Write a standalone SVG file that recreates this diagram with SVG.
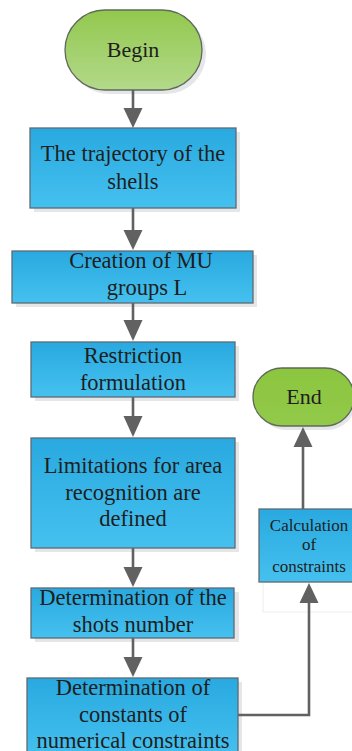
<svg xmlns="http://www.w3.org/2000/svg" width="352" height="751" viewBox="0 0 352 751">
<style>
.box{stroke:#5f6b73;stroke-width:1.3;fill:url(#blue)}
.term{stroke:#5f6a5a;stroke-width:1.3}
.sh{fill:#e4e6e8}
.t{font-family:'Liberation Serif','Times New Roman',serif;font-size:22.5px;fill:#1e1e1e;text-anchor:middle}
.tm{font-size:22px}
.ts{font-size:17px}
.c{stroke:#616161;stroke-width:2.6;fill:none}
</style>
<defs>
<linearGradient id="blue" x1="0" y1="0" x2="0" y2="1"><stop offset="0" stop-color="#29a9e0"/><stop offset="1" stop-color="#45c1ef"/></linearGradient>
<linearGradient id="green1" x1="0" y1="0" x2="0" y2="1"><stop offset="0" stop-color="#92c84e"/><stop offset="1" stop-color="#b3d98a"/></linearGradient>
<linearGradient id="green2" x1="0" y1="0" x2="0" y2="1"><stop offset="0" stop-color="#8cc63f"/><stop offset="1" stop-color="#92c94a"/></linearGradient>
</defs>
<g id="shadows">
<rect class="sh" x="69" y="14" width="137" height="80" rx="40"/>
<rect class="sh" x="34" y="132" width="206" height="80"/>
<rect class="sh" x="16" y="255" width="241" height="52"/>
<rect class="sh" x="35" y="346" width="204" height="55"/>
<rect class="sh" x="35" y="442" width="204" height="110"/>
<rect class="sh" x="35" y="592" width="204" height="50"/>
<rect class="sh" x="31" y="682" width="211" height="73"/>
<rect class="sh" x="263" y="513" width="93" height="73"/>
<rect class="sh" x="257" y="372" width="99" height="58" rx="29"/>
</g>
<rect x="263" y="582" width="92" height="30" fill="#ffffff" stroke="#eeeeee" stroke-width="1"/>
<g id="connectors">
<path class="c" d="M133,90 V110"/>
<path d="M123.5,108 L142.5,108 L133,128 Z" fill="#616161"/>
<path class="c" d="M133,208 V232"/>
<path d="M123.5,230 L142.5,230 L133,250 Z" fill="#616161"/>
<path class="c" d="M133,303 V322"/>
<path d="M123.5,320 L142.5,320 L133,341 Z" fill="#616161"/>
<path class="c" d="M133,397 V418"/>
<path d="M123.5,416 L142.5,416 L133,437 Z" fill="#616161"/>
<path class="c" d="M133,548 V569"/>
<path d="M123.5,567 L142.5,567 L133,587 Z" fill="#616161"/>
<path class="c" d="M133,638 V659"/>
<path d="M123.5,657 L142.5,657 L133,677 Z" fill="#616161"/>
<path class="c" d="M238,715 H309 V601"/>
<path d="M299.5,603 L318.5,603 L309,583 Z" fill="#616161"/>
<path class="c" d="M303,509 V445"/>
<path d="M293.5,447 L312.5,447 L303,427 Z" fill="#616161"/>
</g>
<g id="begin">
<rect class="term" x="65" y="10" width="137" height="80" rx="40" fill="url(#green1)"/>
<text class="t tm" x="133" y="57">Begin</text>
</g>
<g id="trajectory">
<rect class="box" x="30" y="128" width="206" height="80"/>
<text class="t" x="133" y="161">The trajectory of the</text>
<text class="t" x="133" y="189">shells</text>
</g>
<g id="creation">
<rect class="box" x="12" y="251" width="241" height="52"/>
<text class="t" x="141" y="268">Creation of MU</text>
<text class="t" x="147" y="295">groups L</text>
</g>
<g id="restriction">
<rect class="box" x="31" y="342" width="204" height="55"/>
<text class="t" x="133" y="363">Restriction</text>
<text class="t" x="133" y="390">formulation</text>
</g>
<g id="limitations">
<rect class="box" x="31" y="438" width="204" height="110"/>
<text class="t" x="133" y="473">Limitations for area</text>
<text class="t" x="133" y="500">recognition are</text>
<text class="t" x="133" y="526">defined</text>
</g>
<g id="shots">
<rect class="box" x="31" y="588" width="203" height="50"/>
<text class="t" x="133" y="605">Determination of the</text>
<text class="t" x="133" y="632">shots number</text>
</g>
<g id="constants">
<rect class="box" x="27" y="678" width="211" height="80"/>
<text class="t" x="133" y="695">Determination of</text>
<text class="t" x="133" y="722">constants of</text>
<text class="t" x="133" y="748">numerical constraints</text>
</g>
<g id="calculation">
<rect class="box" x="259" y="509" width="96" height="73"/>
<text class="t ts" x="309" y="531">Calculation</text>
<text class="t ts" x="309" y="550">of</text>
<text class="t ts" x="309" y="572">constraints</text>
</g>
<g id="end">
<rect class="term" x="253" y="368" width="101" height="58" rx="29" fill="url(#green2)"/>
<text class="t tm" x="304" y="404">End</text>
</g>
</svg>
